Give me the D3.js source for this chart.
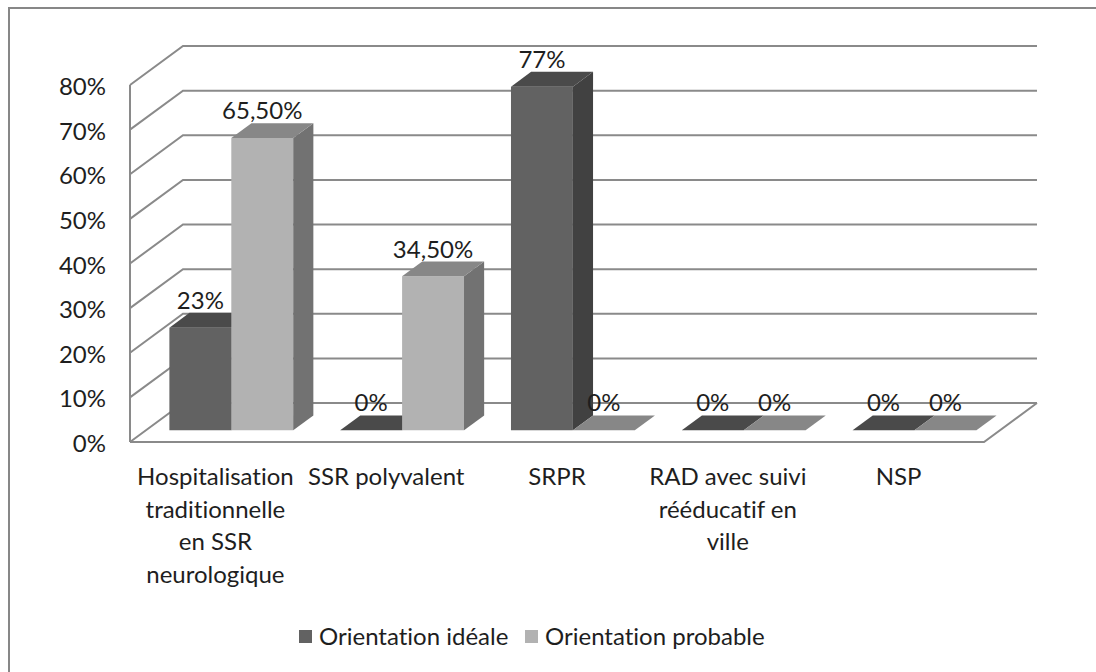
<!DOCTYPE html>
<html lang="fr">
<head>
    <meta charset="UTF-8">
    <title>orientation</title>
    <script src="https://cdn.jsdelivr.net/npm/d3@7/dist/d3.min.js"></script>
    <style>
        body { margin: 0; background: #fff; }
        svg { display: block; font-family: Lato, "Open Sans", sans-serif; }
        svg .grid { fill: none; stroke: #8a8a8a; stroke-width: 2; }
        svg text { fill: #1e1e1e; font-size: 24px; font-variant-ligatures: none; }
    </style>
</head>
<body>
    <svg width="1096" height="672"></svg>
    <script>
    // data
    var categories = [
        ['Hospitalisation', 'traditionnelle', 'en SSR', 'neurologique'],
        ['SSR polyvalent'],
        ['SRPR'],
        ['RAD avec suivi', 'rééducatif en', 'ville'],
        ['NSP']
    ];
    var ideale = [23, 0, 77, 0, 0];
    var probable = [65.5, 34.5, 0, 0, 0];
    var seriesNames = ['Orientation idéale', 'Orientation probable'];
    var yTicks = [0, 10, 20, 30, 40, 50, 60, 70, 80];

    var colors = [
        { front: '#626262', top: '#4a4a4a', side: '#414141' },
        { front: '#b2b2b2', top: '#878787', side: '#727272' }
    ];

    var svg = d3.select('svg'),
        depth = { dx: 53, dy: -39 },
        zFront = 0.3, zBack = 0.68;

    var x = d3.scaleBand()
            .domain(d3.range(categories.length))
            .range([130, 984])
            .paddingInner(0.275)
            .paddingOuter(0.1375),
        inner = d3.scaleBand()
            .domain([0, 1])
            .range([0, x.bandwidth()]),
        y = d3.scaleLinear()
            .domain([0, 80])
            .range([442, 85]);

    // projection: front x, value, depth z
    function px(xv, z) { return xv + z * depth.dx; }
    function py(v, z) { return y(v) + z * depth.dy; }

    // outer border (top & left only visible)
    svg.append('rect')
        .attr('x', 9).attr('y', 8)
        .attr('width', 1200).attr('height', 800)
        .attr('fill', 'none')
        .attr('stroke', '#878787')
        .attr('stroke-width', 2);

    // gridlines on left and back wall
    var x0 = x.range()[0], x1 = x.range()[1];
    svg.selectAll('.grid-line')
        .data(yTicks)
        .enter().append('path')
        .attr('class', 'grid')
        .attr('d', function(t) {
            return 'M' + px(x0, 0) + ',' + py(t, 0) +
                'L' + px(x0, 1) + ',' + py(t, 1) +
                'L' + px(x1, 1) + ',' + py(t, 1);
        });

    // left wall front edge
    svg.append('path')
        .attr('class', 'grid')
        .attr('d', 'M' + x0 + ',' + y(80) + 'L' + x0 + ',' + y(0));

    // floor outline
    svg.append('path')
        .attr('class', 'grid')
        .attr('d', 'M' + x0 + ',' + y(0) + 'L' + x1 + ',' + y(0) +
            'L' + px(x1, 1) + ',' + py(0, 1));

    // y tick labels
    svg.selectAll('.ytick')
        .data(yTicks)
        .enter().append('text')
        .attr('x', 106)
        .attr('y', function(t) { return y(t) + 10; })
        .attr('text-anchor', 'end')
        .text(function(t) { return t + '%'; });

    // bars
    var bars = [];
    categories.forEach(function(c, i) {
        [ideale, probable].forEach(function(s, k) {
            bars.push({ cat: i, k: k, v: s[i] });
        });
    });

    function poly(pts) {
        return 'M' + pts.map(function(p) { return p.join(','); }).join('L') + 'Z';
    }

    var g = svg.selectAll('.bar')
        .data(bars)
        .enter().append('g')
        .attr('class', 'bar');

    g.each(function(d) {
        var sel = d3.select(this),
            a = x(d.cat) + inner(d.k),
            b = a + inner.bandwidth(),
            c = colors[d.k];
        if (d.v > 0) {
            sel.append('path')
                .attr('fill', c.front)
                .attr('d', poly([[px(a, zFront), py(0, zFront)], [px(b, zFront), py(0, zFront)],
                    [px(b, zFront), py(d.v, zFront)], [px(a, zFront), py(d.v, zFront)]]));
            sel.append('path')
                .attr('fill', c.side)
                .attr('d', poly([[px(b, zFront), py(0, zFront)], [px(b, zBack), py(0, zBack)],
                    [px(b, zBack), py(d.v, zBack)], [px(b, zFront), py(d.v, zFront)]]));
        }
        sel.append('path')
            .attr('fill', c.top)
            .attr('d', poly([[px(a, zFront), py(d.v, zFront)], [px(b, zFront), py(d.v, zFront)],
                [px(b, zBack), py(d.v, zBack)], [px(a, zBack), py(d.v, zBack)]]));
    });

    // value labels
    function fmt(v) {
        return (v % 1 === 0 ? String(v) : v.toFixed(2).replace('.', ',')) + '%';
    }

    svg.selectAll('.vlabel')
        .data(bars)
        .enter().append('text')
        .attr('text-anchor', 'middle')
        .attr('x', function(d) {
            return px(x(d.cat) + inner(d.k) + inner.bandwidth() / 2, zFront);
        })
        .attr('y', function(d) { return py(d.v, zBack) - 4; })
        .text(function(d) { return fmt(d.v); });

    // category labels
    var cat = svg.selectAll('.cat')
        .data(categories)
        .enter().append('text')
        .attr('text-anchor', 'middle')
        .attr('transform', function(d, i) {
            return 'translate(' + (x(i) + x.bandwidth() / 2) + ',485)';
        });
    cat.selectAll('tspan')
        .data(function(d) { return d; })
        .enter().append('tspan')
        .attr('x', 0)
        .attr('y', function(d, i) { return i * 32.5; })
        .text(function(d) { return d; });

    // legend
    var legendX = [299, 525];
    var leg = svg.selectAll('.legend')
        .data(seriesNames)
        .enter().append('g')
        .attr('transform', function(d, i) { return 'translate(' + legendX[i] + ',630)'; });
    leg.append('rect')
        .attr('width', 13).attr('height', 13)
        .attr('fill', function(d, i) { return colors[i].front; });
    leg.append('text')
        .attr('x', 20).attr('y', 15)
        .text(function(d) { return d; });
    </script>
</body>
</html>
